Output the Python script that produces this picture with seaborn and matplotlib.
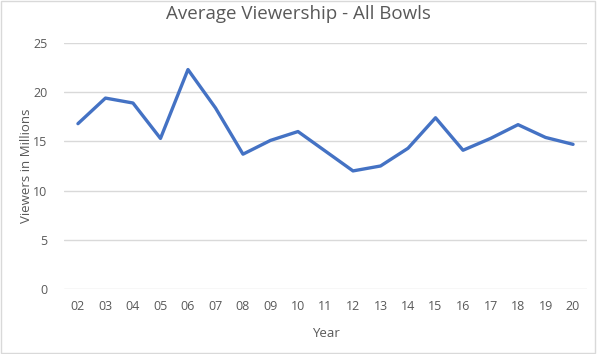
import matplotlib.pyplot as plt
import pandas as pd
import seaborn as sns
import numpy as np
from matplotlib.patches import Rectangle

years = ['02', '03', '04', '05', '06', '07', '08', '09', '10', '11',
         '12', '13', '14', '15', '16', '17', '18', '19', '20']
viewers = [16.8, 19.4, 18.9, 15.3, 22.3, 18.4, 13.7, 15.1, 16.0, 14.0,
           12.0, 12.5, 14.3, 17.4, 14.1, 15.3, 16.7, 15.4, 14.7]
yticks = [0, 5, 10, 15, 20, 25]

df = pd.DataFrame({'Year': years, 'Viewers': viewers})

sns.set_style('white')
plt.rcParams['font.family'] = ['Open Sans', 'DejaVu Sans']
txt = '#595959'

fig = plt.figure(figsize=(6, 3.54), dpi=100)
ax = fig.add_axes([0.107, 0.1836, 0.871, 0.695])
sns.lineplot(data=df, x='Year', y='Viewers', ax=ax, color='#4472C4',
             linewidth=2.4, sort=False)

ax.set_xlim(-0.5, len(years) - 0.5)
ax.set_ylim(0, 25)
ax.set_yticks(yticks)
ax.yaxis.grid(True, color='#d9d9d9', linewidth=1)
ax.set_axisbelow(True)
for s in ax.spines.values():
    s.set_visible(False)
ax.tick_params(axis='both', length=0, labelsize=9, colors=txt, pad=8)
ax.tick_params(axis='y', pad=12)
ax.set_xlabel('Year', fontsize=9.5, color=txt, labelpad=10)
ax.set_ylabel('Viewers in Millions', fontsize=9.5, color=txt, labelpad=0)
fig.text(0.497, 0.96, 'Average Viewership - All Bowls', fontsize=13.5,
         color=txt, ha='center', va='center')

fig.patches.append(Rectangle((0.001, 0.002), 0.991, 0.995, transform=fig.transFigure,
                             fill=False, edgecolor='#d9d9d9', linewidth=1))

fig.savefig('out.png', dpi=100)
